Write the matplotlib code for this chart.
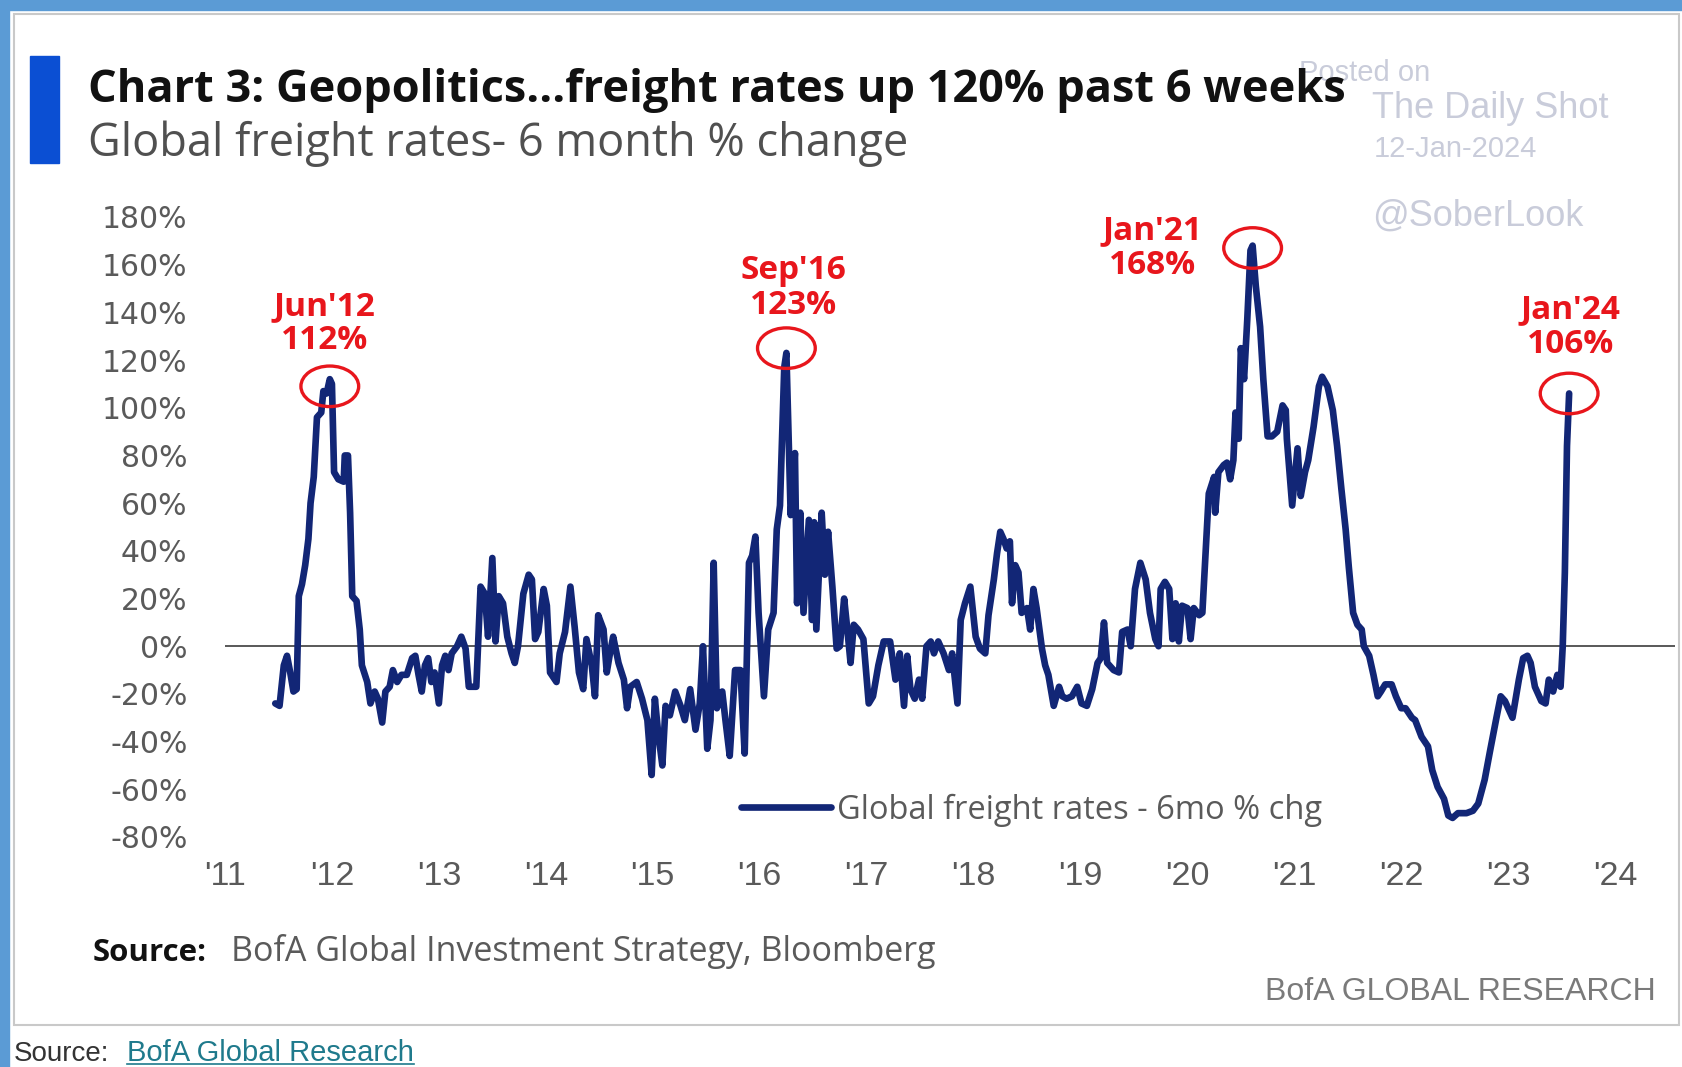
import numpy as np
import matplotlib
matplotlib.use("Agg")
import matplotlib.pyplot as plt
from matplotlib.patches import Rectangle, Ellipse
from matplotlib.lines import Line2D

# Global freight rates, 6 month % change (weekly, decimal years)
dates = [
    2011.93, 2011.97, 2012.01, 2012.04, 2012.07, 2012.10, 2012.13, 2012.15, 2012.18, 2012.21,
    2012.24, 2012.26, 2012.29, 2012.32, 2012.36, 2012.38, 2012.41, 2012.44, 2012.46, 2012.48,
    2012.52, 2012.57, 2012.58, 2012.61, 2012.63, 2012.65, 2012.69, 2012.72, 2012.74, 2012.79,
    2012.82, 2012.86, 2012.89, 2012.93, 2012.96,
    2013.00, 2013.03, 2013.07, 2013.11, 2013.16, 2013.21, 2013.24, 2013.27, 2013.30, 2013.33,
    2013.36, 2013.39, 2013.42, 2013.46, 2013.49, 2013.52, 2013.55, 2013.58, 2013.63, 2013.67,
    2013.71, 2013.74, 2013.81, 2013.85, 2013.89, 2013.92, 2013.96, 2013.99,
    2014.02, 2014.06, 2014.10, 2014.14, 2014.17, 2014.20, 2014.25, 2014.30, 2014.33, 2014.36,
    2014.39, 2014.44, 2014.47, 2014.50, 2014.56, 2014.59, 2014.64, 2014.69, 2014.73, 2014.77,
    2014.81, 2014.84, 2014.89, 2014.92, 2014.95,
    2015.00, 2015.03, 2015.06, 2015.09, 2015.14, 2015.19, 2015.22, 2015.25, 2015.31, 2015.36,
    2015.41, 2015.45, 2015.48, 2015.51, 2015.55, 2015.58, 2015.62, 2015.67, 2015.72, 2015.76,
    2015.81, 2015.86, 2015.90, 2015.93, 2015.97,
    2016.00, 2016.03, 2016.06, 2016.11, 2016.14, 2016.18, 2016.23, 2016.28, 2016.32, 2016.36,
    2016.39, 2016.42, 2016.45, 2016.50, 2016.54, 2016.59, 2016.62, 2016.65, 2016.69, 2016.71,
    2016.75, 2016.79, 2016.81, 2016.84, 2016.87, 2016.92, 2016.95, 2016.97, 2016.99,
    2017.04, 2017.07, 2017.10, 2017.14, 2017.18, 2017.21, 2017.25, 2017.28, 2017.31, 2017.34,
    2017.38, 2017.43, 2017.48, 2017.52, 2017.57, 2017.62, 2017.68, 2017.73, 2017.77, 2017.81,
    2017.84, 2017.87, 2017.91, 2017.95, 2017.98,
    2018.02, 2018.06, 2018.09, 2018.13, 2018.18, 2018.23, 2018.26, 2018.31, 2018.34, 2018.38,
    2018.43, 2018.48, 2018.52, 2018.57, 2018.60, 2018.65, 2018.68, 2018.71, 2018.74, 2018.77,
    2018.80, 2018.82, 2018.85, 2018.88, 2018.91, 2018.96, 2018.99,
    2019.02, 2019.05, 2019.10, 2019.13, 2019.16, 2019.21, 2019.26, 2019.29, 2019.33, 2019.38,
    2019.43, 2019.47, 2019.52, 2019.57, 2019.62, 2019.65, 2019.68, 2019.71, 2019.77, 2019.82,
    2019.85, 2019.90, 2019.93, 2019.97,
    2020.02, 2020.07, 2020.11, 2020.16, 2020.19, 2020.21, 2020.25, 2020.29, 2020.32, 2020.35,
    2020.38, 2020.41, 2020.46, 2020.49, 2020.52, 2020.57, 2020.60, 2020.63, 2020.66, 2020.71,
    2020.72, 2020.75, 2020.80, 2020.83, 2020.86, 2020.89, 2020.91, 2020.94, 2020.96, 2020.99,
    2021.02, 2021.05, 2021.07, 2021.10, 2021.14, 2021.17, 2021.21, 2021.25, 2021.30, 2021.35,
    2021.38, 2021.39, 2021.44, 2021.49, 2021.52, 2021.56, 2021.59, 2021.64, 2021.69, 2021.72,
    2021.77, 2021.82, 2021.86, 2021.90, 2021.94, 2021.97,
    2022.01, 2022.05, 2022.09, 2022.11, 2022.16, 2022.20, 2022.24, 2022.27, 2022.31, 2022.37,
    2022.41, 2022.46, 2022.50, 2022.56, 2022.59, 2022.65, 2022.71, 2022.75, 2022.80, 2022.86,
    2022.90, 2022.94, 2022.99,
    2023.07, 2023.13, 2023.18, 2023.24, 2023.29, 2023.35, 2023.39, 2023.43, 2023.46, 2023.50,
    2023.56, 2023.60, 2023.64, 2023.67, 2023.71, 2023.77, 2023.81, 2023.84, 2023.88, 2023.92,
    2023.95, 2023.97, 2023.99, 2024.01, 2024.03,
]
pct_change = [
    -24, -25, -8, -4, -11, -19, -18, 21, 26, 34,
    45, 60, 71, 96, 98, 107, 106, 112, 110, 73,
    70, 69, 80, 80, 56, 21, 19, 7, -8, -15,
    -24, -19, -22, -32, -19,
    -17, -10, -15, -12, -12, -5, -4, -12, -19, -8,
    -5, -15, -11, -24, -8, -4, -10, -3, 0, 4,
    -1, -17, -17, 25, 22, 4, 37, 2,
    21, 18, 4, -3, -7, 0, 22, 30, 28, 3,
    6, 24, 17, -11, -15, -3, 6, 25, 8, -11,
    -18, 3, -8, -21, 13,
    7, -11, -3, 4, -7, -14, -26, -17, -15, -22,
    -31, -54, -22, -36, -50, -25, -29, -19, -25, -31,
    -18, -35, -24, 0, -43,
    -31, 35, -26, -19, -31, -46, -10, -10, -45, 35,
    38, 46, 14, -21, 7, 14, 49, 59, 117, 123,
    55, 81, 18, 56, 14, 53, 11, 52, 7,
    56, 30, 48, 25, -1, 0, 20, 7, -7, 9,
    7, 3, -24, -21, -8, 2, 2, -14, -3, -25,
    -4, -18, -22, -14, -22,
    0, 2, -3, 2, -3, -10, -3, -24, 11, 18,
    25, 4, -1, -3, 13, 28, 39, 48, 45, 41,
    44, 18, 34, 31, 14, 16, 7,
    24, 16, -1, -8, -12, -25, -17, -21, -22, -21,
    -17, -24, -25, -18, -7, -5, 10, -7, -10, -11,
    6, 7, 0, 24,
    35, 28, 14, 3, 0, 24, 27, 24, 3, 18,
    2, 17, 16, 3, 16, 13, 14, 39, 64, 71,
    56, 73, 76, 77, 70, 78, 98, 87, 125, 112,
    137, 166, 168, 151, 134, 112, 88, 88, 90, 101,
    99, 87, 59, 83, 63, 73, 78, 92, 109, 113,
    109, 99, 84, 66, 49, 33,
    14, 9, 7, 0, -4, -12, -21, -19, -16, -16,
    -21, -26, -26, -30, -31, -38, -42, -52, -59, -64,
    -71, -72, -70,
    -70, -69, -66, -56, -44, -30, -21, -23, -26, -30,
    -14, -5, -4, -7, -17, -23, -24, -14, -19, -12,
    -17, 0, 31, 84, 106,
]
assert len(dates) == len(pct_change)

# called-out peaks
peak_labels = ["Jun'12", "Sep'16", "Jan'21", "Jan'24"]
peak_dates = [2012.44, 2016.71, 2021.07, 2024.03]
label_offsets = [(-4, 40), (5, 47), (-72, -2), (1, 48)]  # points, text centre vs peak
ring_drop = [3, -2, 1, 0]  # ring centre below the peak, in %

years = list(range(2011, 2025))
y_ticks = list(range(-80, 181, 20))

dates = np.array(dates)
pct_change = np.array(pct_change, dtype=float)

NAVY = "#122676"
RED = "#e8161c"
GREY = "#5a5a5a"

fig = plt.figure(figsize=(16.83, 10.67), dpi=100)
W, H = 1683, 1067


def fx(px):
    return px / W


def fy(py):
    return 1 - py / H


# page furniture: blue border, grey panel frame, blue title bar
fig.patches.append(Rectangle((0, 0), fx(9), 1, transform=fig.transFigure,
                             color="#5b9bd5", zorder=0))
fig.patches.append(Rectangle((0, fy(10)), 1, fy(0) - fy(10), transform=fig.transFigure,
                             color="#5b9bd5", zorder=0))
fig.patches.append(Rectangle((fx(14), fy(1025)), fx(1679) - fx(14), fy(14) - fy(1025),
                             transform=fig.transFigure, facecolor="none",
                             edgecolor="#c9c9c9", lw=1.5, zorder=0))
fig.patches.append(Rectangle((fx(30), fy(163)), fx(29), fy(56) - fy(163),
                             transform=fig.transFigure, color="#0b4fd3", zorder=1))

# watermark (drawn first so the title sits on top)
wm = "#c9ccda"
fig.text(fx(1299), fy(73), "Posted on", color=wm, fontsize=21,
         family="Liberation Sans", va="center", ha="left")
fig.text(fx(1372), fy(108), "The Daily Shot", color=wm, fontsize=26,
         family="Liberation Sans", va="center", ha="left")
fig.text(fx(1374), fy(149), "12-Jan-2024", color=wm, fontsize=21,
         family="Liberation Sans", va="center", ha="left")
fig.text(fx(1372), fy(216), "@SoberLook", color=wm, fontsize=26,
         family="Liberation Sans", va="center", ha="left")

fig.text(fx(88), fy(102), "Chart 3: Geopolitics...freight rates up 120% past 6 weeks",
         fontsize=32.5, fontweight="bold", family="Open Sans", color="#111111",
         va="baseline", ha="left")
fig.text(fx(88), fy(156), "Global freight rates- 6 month % change",
         fontsize=32.5, family="Open Sans", color="#505050", va="baseline", ha="left")

# main axes
ax = fig.add_axes([fx(225), fy(837), fx(1675) - fx(225), fy(217) - fy(837)])
x_left = 2011.46
x_right = 2025.02
ax.set_xlim(x_left, x_right)
ax.set_ylim(-80, 180)
for s in ax.spines.values():
    s.set_visible(False)
ax.set_facecolor("none")

ax.axhline(0, color="#3c3c3c", lw=1.2, zorder=1)
line, = ax.plot(dates, pct_change, color=NAVY, lw=4.8, solid_joinstyle="round",
                solid_capstyle="round", zorder=3,
                label="Global freight rates - 6mo % chg")

ax.set_yticks(y_ticks)
ax.set_yticklabels([f"{v}%" for v in y_ticks], family="DejaVu Sans", fontsize=21.5,
                   color=GREY)
ax.set_xticks([y + 0.46 for y in years])
ax.set_xticklabels([f"'{y % 100:02d}" for y in years],
                   family="Liberation Sans", fontsize=24.5, color=GREY)
ax.tick_params(axis="y", length=0, pad=27)
ax.tick_params(axis="x", length=0, pad=17)

# red call-outs around the peaks
for lab, d, off, drop in zip(peak_labels, peak_dates, label_offsets, ring_drop):
    i = int(np.argmin(np.abs(dates - d)))
    val = pct_change[i]
    ax.add_patch(Ellipse((dates[i], val - drop), 0.54, 17, facecolor="none",
                         edgecolor=RED, lw=2.4, zorder=4))
    ax.annotate(f"{lab}\n{val:.0f}%", (dates[i], val), xytext=off,
                textcoords="offset points", ha="center", va="center",
                fontsize=24, fontweight="bold", family="Open Sans", color=RED,
                linespacing=1.07, zorder=5)

ax.legend(handles=[line], loc="center left", bbox_to_anchor=(fx(741), fy(810)),
          bbox_transform=fig.transFigure, frameon=False, borderpad=0,
          borderaxespad=0, handlelength=2.75, handletextpad=0.18,
          prop={"family": "Open Sans", "size": 23.5}, labelcolor=GREY)

# footer
fig.text(fx(93), fy(961), "Source:", fontsize=22.5, fontweight="bold",
         family="Open Sans", color="#111111", va="baseline", ha="left")
fig.text(fx(231), fy(961), "BofA Global Investment Strategy, Bloomberg", fontsize=24.5,
         family="Open Sans", color=GREY, va="baseline", ha="left")
fig.text(fx(1656), fy(1000), "BofA GLOBAL RESEARCH", fontsize=23,
         family="Liberation Sans", color="#7a7a7a", va="baseline", ha="right")

fig.text(fx(14), fy(1061), "Source:", fontsize=20, family="Liberation Sans",
         color="#333333", va="baseline", ha="left")
link = fig.text(fx(127), fy(1061), "BofA Global Research", fontsize=21,
                family="Liberation Sans", color="#1f7a8c", va="baseline", ha="left")
fig.canvas.draw()
bb = link.get_window_extent().transformed(fig.transFigure.inverted())
fig.lines.append(Line2D([bb.x0, bb.x1], [fy(1064), fy(1064)], transform=fig.transFigure,
                        color="#1f7a8c", lw=1.2))

fig.savefig("out.png", dpi=100, facecolor="white")
